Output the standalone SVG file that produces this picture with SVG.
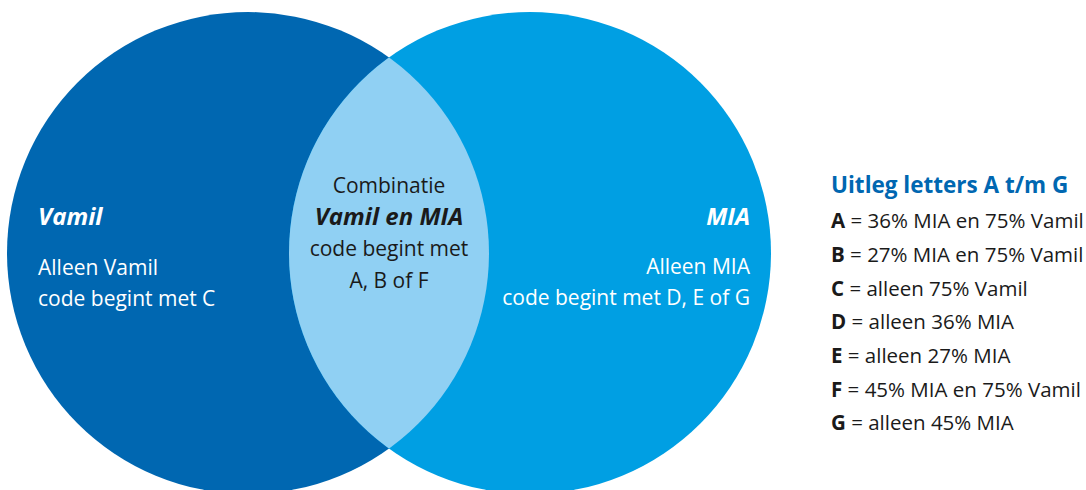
<svg xmlns="http://www.w3.org/2000/svg" width="1086" height="490" viewBox="0 0 1086 490">
<style>
text{font-family:"Open Sans","Noto Sans",sans-serif;}
.w{fill:#ffffff;font-size:21px;}
.wt{fill:#ffffff;font-size:24px;font-weight:bold;font-style:italic;}
.k{fill:#1a1a1a;font-size:21px;}
.kt{fill:#1a1a1a;font-size:24px;font-weight:bold;font-style:italic;}
.h{fill:#0067b1;font-size:22.5px;font-weight:bold;}
.l{fill:#1a1a1a;font-size:20.5px;}
.l tspan.b{font-weight:bold;}
</style>
<defs>
<clipPath id="clipL"><circle cx="248" cy="253" r="241"/></clipPath>
</defs>
<g id="vamil">
<circle cx="248" cy="253" r="241" fill="#0067b1"/>
<text class="wt" x="38" y="225">Vamil</text>
<text class="w" x="38" y="275">Alleen Vamil</text>
<text class="w" x="38" y="306">code begint met C</text>
</g>
<g id="mia">
<circle cx="530" cy="253" r="241" fill="#009fe3"/>
<text class="wt" x="750" y="225" text-anchor="end">MIA</text>
<text class="w" x="750" y="274" text-anchor="end">Alleen MIA</text>
<text class="w" x="750" y="305" text-anchor="end">code begint met D, E of G</text>
</g>
<g id="combinatie">
<circle cx="530" cy="253" r="241" fill="#90d0f3" clip-path="url(#clipL)"/>
<text class="k" x="389" y="193" text-anchor="middle">Combinatie</text>
<text class="kt" x="389" y="225" text-anchor="middle">Vamil en MIA</text>
<text class="k" x="389" y="256" text-anchor="middle">code begint met</text>
<text class="k" x="389" y="288" text-anchor="middle">A, B of F</text>
</g>
<g id="legenda">
<text class="h" x="831" y="193">Uitleg letters A t/m G</text>
<text class="l" x="831" y="228"><tspan class="b">A</tspan> = 36% MIA en 75% Vamil</text>
<text class="l" x="831" y="262"><tspan class="b">B</tspan> = 27% MIA en 75% Vamil</text>
<text class="l" x="831" y="296"><tspan class="b">C</tspan> = alleen 75% Vamil</text>
<text class="l" x="831" y="329"><tspan class="b">D</tspan> = alleen 36% MIA</text>
<text class="l" x="831" y="363"><tspan class="b">E</tspan> = alleen 27% MIA</text>
<text class="l" x="831" y="397"><tspan class="b">F</tspan> = 45% MIA en 75% Vamil</text>
<text class="l" x="831" y="430"><tspan class="b">G</tspan> = alleen 45% MIA</text>
</g>
<g id="connectors"></g>
</svg>
